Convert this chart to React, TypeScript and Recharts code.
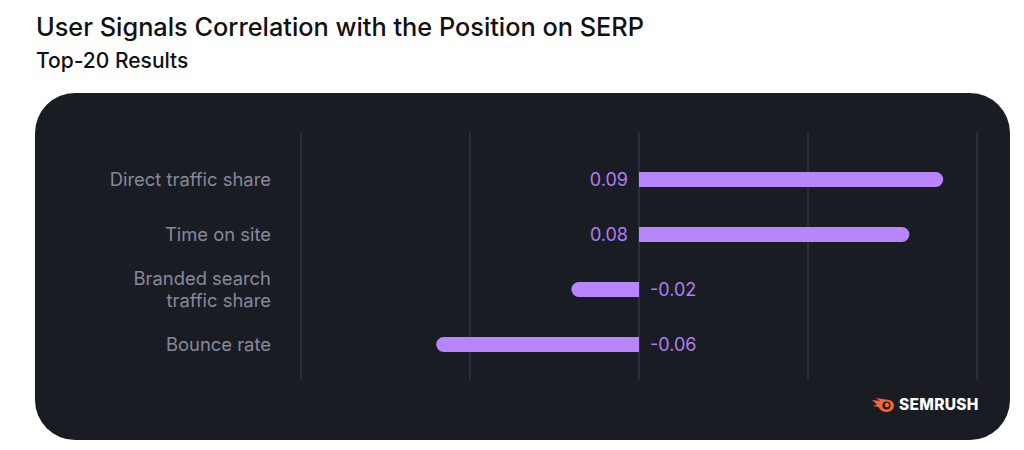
import { BarChart, Bar, XAxis, YAxis, CartesianGrid, LabelList } from "recharts"

const SIGNALS = ["Direct traffic share", "Time on site", "Branded search traffic share", "Bounce rate"]
const CORRELATION = [0.09, 0.08, -0.02, -0.06]
const X_TICKS = [-0.1, -0.05, 0, 0.05, 0.1]

const chartData = SIGNALS.map((signal, i) => ({ signal, value: CORRELATION[i] }))

const FONT = "Inter, 'Noto Sans', sans-serif"
const PANEL_BG = "#1a1c24"
const BAR_COLOR = "#b885fc"
const VALUE_COLOR = "#b07ef2"
const LABEL_COLOR = "#868a98"

// greedy word wrap by character count
function wrapWords(s: string, maxChars: number) {
  const lines: string[] = []
  let cur = ""
  for (const w of s.split(" ")) {
    const next = cur ? cur + " " + w : w
    if (next.length > maxChars && cur) {
      lines.push(cur)
      cur = w
    } else cur = next
  }
  if (cur) lines.push(cur)
  return lines
}

function SignalTick(props: any) {
  const { x, y, payload } = props
  const lines = wrapWords(String(payload.value), 20)
  const lh = 22
  return (
    <text x={x} y={y} textAnchor="end" fill={LABEL_COLOR} fontSize={18.4} fontFamily={FONT}>
      {lines.map((l, i) => (
        <tspan key={i} x={x} dy={i === 0 ? 6.5 - ((lines.length - 1) * lh) / 2 : lh}>
          {l}
        </tspan>
      ))}
    </text>
  )
}

// value sits on the zero side, opposite to where the bar grows
function ValueLabel(props: any) {
  const { x, y, height, value } = props
  const pos = Number(value) >= 0
  return (
    <text
      x={pos ? x - 11 : x + 11}
      y={y + height / 2}
      dy="0.36em"
      textAnchor={pos ? "end" : "start"}
      fill={VALUE_COLOR}
      fontSize={18}
      fontFamily={FONT}
    >
      {Number(value) < 0 ? "-" + Math.abs(value).toFixed(2) : Number(value).toFixed(2)}
    </text>
  )
}

function SemrushLogo() {
  return (
    <div style={{ position: "absolute", left: 836, top: 302, display: "flex", alignItems: "center", gap: 4 }}>
      <svg width={24} height={16} viewBox="0 0 24 16">
        <path d="M1 3 L9 4 L5 1 L14 2.5 C19 2 23 5 23 8.5 C23 12.5 19.5 15 15.5 15 C11 15 8.5 12 7.5 10 L2 9 L6 7.5 Z" fill="#ff642d" />
        <circle cx="15.5" cy="8.5" r="4" fill={PANEL_BG} />
        <circle cx="16" cy="8" r="2.2" fill="#ff642d" />
      </svg>
      <span style={{ color: "#ffffff", fontFamily: FONT, fontWeight: 800, fontSize: 15.5, letterSpacing: 0.3 }}>SEMRUSH</span>
    </div>
  )
}

export default function App() {
  return (
    <div style={{ position: "relative", width: 1008, height: 442, fontFamily: FONT }}>
      <div style={{ position: "absolute", left: 28, top: 3, fontSize: 25.3, fontWeight: 500, color: "#111" }}>
        User Signals Correlation with the Position on SERP
      </div>
      <div style={{ position: "absolute", left: 28, top: 40, fontSize: 21, fontWeight: 500, color: "#111" }}>
        Top-20 Results
      </div>
      <div
        style={{
          position: "absolute",
          left: 27,
          top: 85,
          width: 975,
          height: 347,
          background: PANEL_BG,
          borderRadius: 40,
        }}
      >
        <BarChart
          width={975}
          height={347}
          data={chartData}
          layout="vertical"
          margin={{ top: 39, right: 33, bottom: 60, left: 30 }}
        >
          <CartesianGrid horizontal={false} stroke="#3c3f4a" strokeWidth={1} />
          <XAxis type="number" domain={[-0.1, 0.1]} ticks={X_TICKS} hide />
          <YAxis
            type="category"
            dataKey="signal"
            width={236}
            axisLine={false}
            tickLine={false}
            tickSize={0}
            tickMargin={30}
            padding={{ top: 20, bottom: 8 }}
            tick={<SignalTick />}
            interval={0}
          />
          <Bar dataKey="value" fill={BAR_COLOR} barSize={15} radius={[0, 8, 8, 0]} isAnimationActive={false}>
            <LabelList dataKey="value" content={<ValueLabel />} />
          </Bar>
        </BarChart>
        <SemrushLogo />
      </div>
    </div>
  )
}
